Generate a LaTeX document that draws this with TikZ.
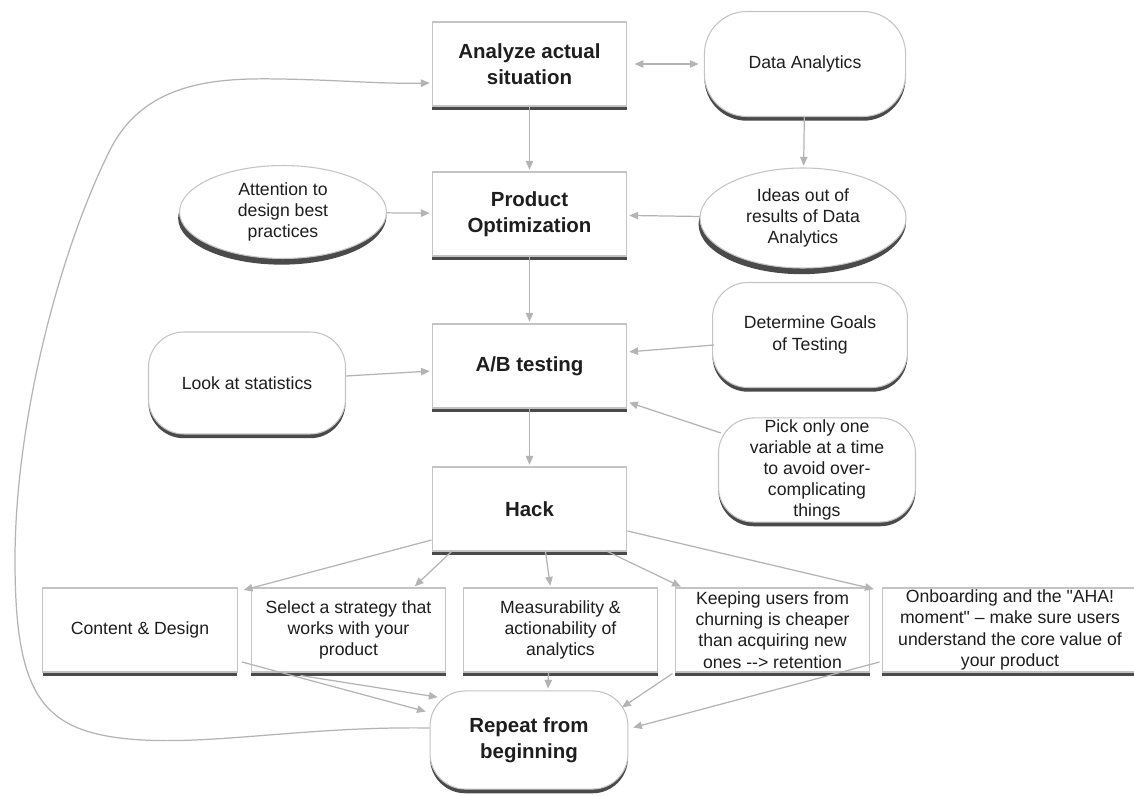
\documentclass[tikz,border=0pt]{standalone}
\usepackage{fontspec}
\setmainfont{Liberation Sans}
\setmonofont{Liberation Sans}
\usetikzlibrary{shapes.geometric,arrows.meta,shadows,calc}
\definecolor{edgecol}{HTML}{B4B4B4}
\definecolor{bordercol}{HTML}{C4C4C4}
\definecolor{shadowcol}{HTML}{4A4A4A}
\definecolor{txtcol}{HTML}{1E1E1E}
\newcommand\straightq{{\ttfamily"}}
\tikzset{
  base/.style={draw=bordercol, fill=white, line width=0.6pt, text=txtcol, align=center, inner sep=1pt,
    drop shadow={shadow xshift=0pt, shadow yshift=-2.4pt, fill=shadowcol, opacity=1}},
  mainbox/.style={base, minimum width=110.5pt, minimum height=47.6pt, font=\fontsize{11.6}{14.5}\selectfont\bfseries},
  subbox/.style={base, inner sep=0pt, minimum width=110.5pt, minimum height=47.6pt, font=\fontsize{10}{12}\selectfont},
  roundbox/.style={base, rounded corners=20pt, font=\fontsize{10}{12}\selectfont},
  oval/.style={base, ellipse, inner sep=0pt, font=\fontsize{10}{12}\selectfont,
    drop shadow={shadow xshift=-0.8pt, shadow yshift=-3.5pt, fill=shadowcol, opacity=1}},
  conn/.style={draw=edgecol, line width=0.7pt, -{Triangle[length=5pt,width=4.2pt]}, shorten >=1pt},
}
\begin{document}
\begin{tikzpicture}[x=0.5669pt, y=-0.5669pt]
\useasboundingbox[fill=white] (0,0) rectangle (1134,796);

% main column
\node[mainbox] (ana) at (529.5,64) {Analyze actual\\situation};
\node[mainbox] (prod) at (529.5,214) {Product\\Optimization};
\node[mainbox] (ab) at (529.5,366) {A/B testing};
\node[mainbox] (hack) at (529.5,509) {Hack};

% side nodes
\node[roundbox, rounded corners=24pt, minimum width=114pt, minimum height=59.5pt] (da) at (805,64) {Data Analytics};
\node[oval, minimum width=116.8pt, minimum height=56.7pt] (ideas) at (803,218) {Ideas out of\\results of Data\\Analytics};
\node[oval, minimum width=117.3pt, minimum height=52.7pt] (att) at (283,212) {Attention to\\design best\\practices};
\node[roundbox, minimum width=110.5pt, minimum height=59.5pt] (det) at (810,335) {Determine Goals\\of Testing};
\node[roundbox, minimum width=111.7pt, minimum height=57.8pt] (look) at (247,383) {Look at statistics};
\node[roundbox, inner sep=0pt, minimum width=111.7pt, minimum height=59pt] (pick) at (817,470) {Pick only one\\variable at a time\\to avoid over-\\complicating\\things};

% bottom row
\node[subbox] (cd) at (140,630) {Content \& Design};
\node[subbox] (sel) at (348.5,630) {Select a strategy that\\works with your\\product};
\node[subbox] (meas) at (560.5,630) {Measurability \&\\actionability of\\analytics};
\node[subbox] (keep) at (772.5,630) {Keeping users from\\churning is cheaper\\than acquiring new\\ones -{}-{}> retention};
\node[subbox, minimum width=145pt] (onb) at (1010,630) {Onboarding and the \straightq AHA!\\moment\straightq{} -- make sure users\\understand the core value of\\your product};

\node[roundbox, minimum width=112.2pt, minimum height=55.6pt, font=\fontsize{11.6}{14.5}\selectfont\bfseries] (rep) at (529,740) {Repeat from\\beginning};

% connectors
\draw[conn, {Triangle[length=5pt,width=4.2pt]}-{Triangle[length=5pt,width=4.2pt]}, shorten <=4pt, shorten >=3pt] (ana) -- (da);
\draw[conn] (ana) -- (prod);
\draw[conn] (da) -- (ideas);
\draw[conn] (att) -- (prod);
\draw[conn] (ideas) -- (prod);
\draw[conn] (prod) -- (ab);
\draw[conn] ($(look.east)+(0,-7)$) -- ($(ab.west)+(0,5)$);
\draw[conn] ($(det.west)+(2,10)$) -- ($(ab.east)+(0,-14)$);
\draw[conn] ($(pick.west)+(3,-37)$) -- ($(ab.east)+(0,36)$);
\draw[conn] (ab) -- (hack);

\draw[conn] ($(hack.west)+(0,31)$) -- ($(cd.north east)+(4,3)$);
\draw[conn] ($(hack.south west)+(20,0)$) -- ($(sel.north)+(65,0)$);
\draw[conn] ($(hack.south)+(16,0)$) -- ($(meas.north)+(-10,0)$);
\draw[conn] ($(hack.south east)+(-20,0)$) -- ($(keep.north west)+(8,0)$);
\draw[conn] ($(hack.east)+(0,22)$) -- ($(onb.north west)+(-6,2)$);

\draw[conn] ($(cd.east)+(4,32)$) -- ($(rep.west)+(-2,-28)$);
\draw[conn] ($(sel.south)+(-48,3)$) -- ($(rep.north west)+(10,7)$);
\draw[conn] ($(meas.south)+(-12,0)$) -- ($(rep.north)+(19,0)$);
\draw[conn] ($(keep.south west)+(-2,1)$) -- ($(rep.north east)+(-8,18)$);
\draw[conn] ($(onb.west)+(-2,32)$) -- ($(rep.east)+(3,-12)$);

\draw[conn] ($(rep.west)+(0,-12)$) .. controls (300,726) and (200,748) .. (120,738)
  .. controls (40,728) and (15,690) .. (15,560)
  .. controls (15,420) and (60,250) .. (110,150)
  .. controls (145,80) and (220,78) .. (280,79)
  .. controls (340,80) and (380,84) .. ($(ana.west)+(0,19)$);
\end{tikzpicture}
\end{document}
